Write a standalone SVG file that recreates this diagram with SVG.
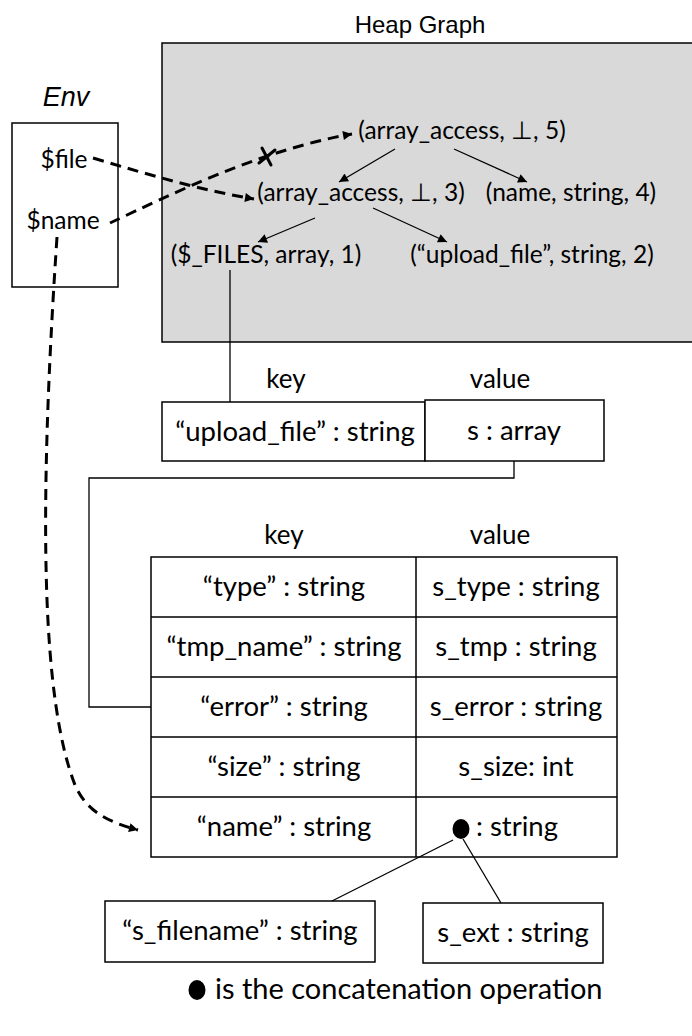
<svg xmlns="http://www.w3.org/2000/svg" width="692" height="1036" viewBox="0 0 692 1036">
  <style>
    .t { font-family: Lato, "Open Sans", sans-serif; font-size: 24.5px; fill: #000; }
    .b { font-family: Lato, "Open Sans", sans-serif; font-size: 27.5px; fill: #000; }
    .h { font-family: Lato, "Open Sans", sans-serif; font-size: 26px; fill: #000; text-anchor: middle; }
    .m { text-anchor: middle; }
    .title { font-family: "Liberation Sans", Arial, sans-serif; font-size: 24px; fill: #000; text-anchor: middle; }
    .box { fill: #fff; stroke: #000; stroke-width: 1.5; }
    .edge { fill: none; stroke: #000; stroke-width: 1.3; }
    .grid { fill: none; stroke: #000; stroke-width: 1.5; }
    .cross { fill: none; stroke: #000; stroke-width: 3; stroke-linecap: round; }
    .dash { fill: none; stroke: #000; stroke-width: 3; stroke-dasharray: 11 7; }
  </style>
  <defs>
    <marker id="tri" viewBox="0 0 10 10" refX="10" refY="5" markerWidth="11" markerHeight="9" markerUnits="userSpaceOnUse" orient="auto">
      <path d="M0,0 L10,5 L0,10 Z" fill="#000"/>
    </marker>
  </defs>

  <!-- heap graph panel -->
  <g id="heap">
    <text class="title" x="420" y="33">Heap Graph</text>
    <path d="M700,43 H162 V342 H700" fill="#d9d9d9" stroke="#000" stroke-width="1.5"/>
  </g>
  <g id="n5"><text class="t m" x="462" y="139">(array_access, ⊥, 5)</text></g>
  <g id="n3"><text class="t m" x="361" y="201">(array_access, ⊥, 3)</text></g>
  <g id="n4"><text class="t m" x="571" y="201">(name, string, 4)</text></g>
  <g id="n1"><text class="t m" x="266" y="263">($_FILES, array, 1)</text></g>
  <g id="n2"><text class="t m" x="532" y="263">(“upload_file”, string, 2)</text></g>

  <!-- environment -->
  <g id="env">
    <text class="title" x="66" y="106" style="font-style: italic; font-size: 27px;">Env</text>
    <rect class="box" x="12" y="123" width="106" height="164"/>
    <text class="t m" x="64" y="168">$file</text>
    <text class="t m" x="63" y="229">$name</text>
  </g>

  <!-- upload_file entry -->
  <g id="entry">
    <text class="h" x="286" y="388">key</text>
    <text class="h" x="500" y="388">value</text>
    <rect class="box" x="162" y="402" width="263" height="59"/>
    <rect class="box" x="425" y="400" width="179" height="61"/>
    <text class="b m" x="295" y="441">“upload_file” : string</text>
    <text class="b m" x="514" y="440">s : array</text>
  </g>

  <!-- array table -->
  <g id="table">
    <text class="h" x="284" y="544">key</text>
    <text class="h" x="500" y="544">value</text>
    <rect class="box" x="151" y="557" width="466" height="300"/>
    <path class="grid" d="M151,617 H617 M151,677 H617 M151,737 H617 M151,797 H617 M416,557 V857"/>
    <text class="b m" x="284" y="596">“type” : string</text>
    <text class="b m" x="516" y="596">s_type : string</text>
    <text class="b m" x="284" y="656">“tmp_name” : string</text>
    <text class="b m" x="516" y="656">s_tmp : string</text>
    <text class="b m" x="284" y="716">“error” : string</text>
    <text class="b m" x="516" y="716">s_error : string</text>
    <text class="b m" x="284" y="776">“size” : string</text>
    <text class="b m" x="516" y="776">s_size: int</text>
    <text class="b m" x="284" y="836">“name” : string</text>
    <ellipse cx="461" cy="829" rx="8.5" ry="10" fill="#000"/>
    <text class="b" x="476" y="836">: string</text>
  </g>

  <g id="filename">
    <rect class="box" x="105" y="901" width="270" height="61"/>
    <text class="b m" x="240" y="940">“s_filename” : string</text>
  </g>
  <g id="ext">
    <rect class="box" x="423" y="903" width="180" height="60"/>
    <text class="b m" x="513" y="942">s_ext : string</text>
  </g>

  <g id="legend">
    <ellipse cx="197" cy="990" rx="8.5" ry="10" fill="#000"/>
    <text class="b" x="215" y="999" style="font-size: 29px;">is the concatenation operation</text>
  </g>

  <!-- connectors -->
  <g id="connectors">
    <path class="edge" d="M395,149 L339,182" marker-end="url(#tri)"/>
    <path class="edge" d="M454,149 L527,182" marker-end="url(#tri)"/>
    <path class="edge" d="M373,208 L447,242" marker-end="url(#tri)"/>
    <path class="edge" d="M315,218 L258,242" marker-end="url(#tri)"/>
    <path class="edge" d="M230,270 V402"/>
    <path class="edge" d="M514,461 V478 H89 V707 H151"/>
    <path class="edge" d="M453,840 L332,901"/>
    <path class="edge" d="M463,839 L501,903"/>
    <path class="dash" d="M93,158 C150,175 200,190 254,199" marker-end="url(#tri)"/>
    <path class="dash" d="M110,223 C170,195 260,150 352,134" marker-end="url(#tri)"/>
    <path class="cross" d="M262,148 L271,165 M259,163 L275,150"/>
    <path class="dash" d="M57,237 C38,520 42,700 75,785 C86,810 105,821 138,830" marker-end="url(#tri)"/>
  </g>
</svg>
